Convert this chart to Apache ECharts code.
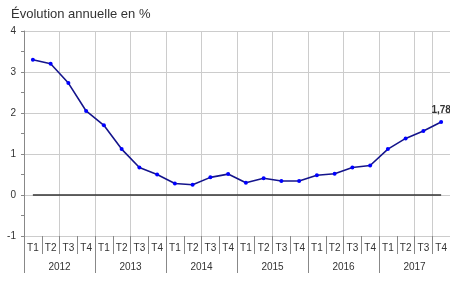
<!DOCTYPE html>
<html><head><meta charset="utf-8">
<script src="https://cdn.jsdelivr.net/npm/echarts@6/dist/echarts.min.js"></script>
<style>html,body{margin:0;padding:0;background:#fff}#c{width:450px;height:291px}</style>
</head><body><div id="c"></div>
<script>
var years = ['2012','2013','2014','2015','2016','2017'];
var quarters = ['T1','T2','T3','T4'];
var values = [3.30,3.20,2.73,2.05, 1.70,1.12,0.67,0.50, 0.28,0.25,0.43,0.51, 0.30,0.41,0.34,0.34, 0.48,0.52,0.67,0.72, 1.12,1.38,1.56,1.78];
var yTicks = {min:-1, max:4, interval:1};
var lastLabel = '1,78';

var cats = [];
years.forEach(function(y){ quarters.forEach(function(q){ cats.push(y+' '+q); }); });
var zeros = cats.map(function(){ return 0; });

var chart = echarts.init(document.getElementById('c'));
var font = 'Liberation Sans, Arial, sans-serif';
var grid = {left:24, right:0, top:31, bottom:55};
chart.setOption({
  animation:false,
  title:{text:'Évolution annuelle en %', left:6, top:3, textStyle:{fontFamily:font, fontSize:13, fontWeight:'normal', color:'#333'}},
  grid:[grid, Object.assign({}, grid)],
  xAxis:[{
    type:'category', gridIndex:0, data:cats, boundaryGap:true,
    axisLine:{show:false, onZero:false},
    axisTick:{show:true, length:18, interval:0, lineStyle:{color:'#888'}},
    axisLabel:{interval:0, margin:7, fontFamily:font, fontSize:10, color:'#333', formatter:function(v){return v.split(' ')[1];}},
    splitLine:{show:true, interval:1, lineStyle:{color:'#ccc', width:1}}
  },{
    type:'category', gridIndex:1, data:years, boundaryGap:true,
    axisLine:{show:false, onZero:false},
    axisTick:{show:true, length:37, interval:0, lineStyle:{color:'#888'}},
    axisLabel:{interval:0, margin:26, fontFamily:font, fontSize:10, color:'#333'},
    splitLine:{show:false}
  }],
  yAxis:[{
    type:'value', gridIndex:0, min:yTicks.min, max:yTicks.max, interval:yTicks.interval,
    axisLine:{show:true, lineStyle:{color:'#888'}},
    axisTick:{show:true, length:3, lineStyle:{color:'#888'}},
    minorTick:{show:true, splitNumber:2, length:3, lineStyle:{color:'#888'}},
    axisLabel:{margin:8, fontFamily:font, fontSize:10, color:'#333'},
    splitLine:{show:true, lineStyle:{color:'#ccc', width:1}}
  },{
    type:'value', gridIndex:1, min:yTicks.min, max:yTicks.max, interval:yTicks.interval, show:false
  }],
  series:[{
    type:'line', xAxisIndex:0, yAxisIndex:0, data:zeros, symbol:'none',
    lineStyle:{color:'#333', width:1.5}, z:1, silent:true
  },{
    type:'line', xAxisIndex:0, yAxisIndex:0, data:values.map(function(v,i){
      return i===values.length-1 ? {value:v, label:{show:true, formatter:lastLabel, position:'top', distance:5, fontFamily:font, fontSize:10, fontWeight:'bold', color:'#333'}} : v;
    }),
    symbol:'circle', symbolSize:4,
    itemStyle:{color:'#0000ff'},
    lineStyle:{color:'#14148c', width:1.6}, z:3
  }]
});
</script></body></html>
